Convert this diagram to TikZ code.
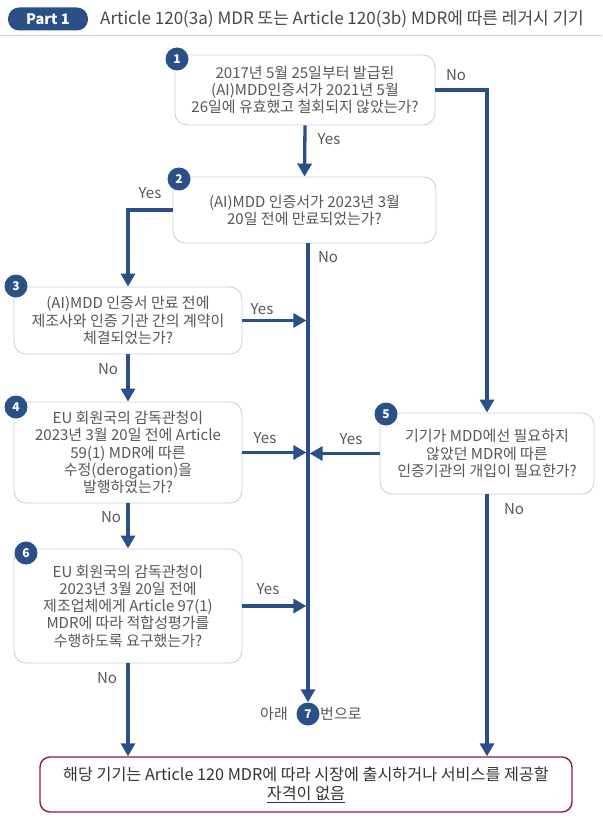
\documentclass[tikz,border=0pt]{standalone}
\usepackage{fontspec}
\setmainfont{Noto Sans CJK KR}
\usetikzlibrary{arrows.meta}
\definecolor{navy}{HTML}{2B5088}
\definecolor{boxline}{HTML}{C9D2DC}
\definecolor{txt}{HTML}{575757}
\definecolor{dark}{HTML}{333333}
\definecolor{wine}{HTML}{8C1D3C}
\tikzset{
  qbox/.style={draw=boxline, line width=0.9pt, rounded corners=12pt, fill=white, align=center, text=txt, font=\fontsize{15}{17.2}\selectfont, inner sep=0pt},
  badge/.style={circle, fill=navy, text=white, font=\fontsize{12}{12}\selectfont\bfseries, minimum size=23pt, inner sep=0pt},
  arr/.style={draw=navy, line width=3.3pt, -{Triangle[width=14pt,length=13pt]}},
  lbl/.style={text=txt, font=\fontsize{15}{15}\selectfont, inner sep=0pt},
}
\begin{document}
\begin{tikzpicture}[x=1pt,y=-1pt]
\useasboundingbox (0,0) rectangle (602,821);
% header
\node[rounded corners=11pt, fill=navy, minimum width=80pt, minimum height=23pt, text=white, font=\fontsize{14.5}{14.5}\selectfont\bfseries, inner sep=0pt] (part) at (48,19) {Part 1};
\node[anchor=west, text=dark!90, font=\fontsize{17}{17}\selectfont, inner sep=0pt] (title) at (100,19) {Article 120(3a) MDR 또는 Article 120(3b) MDR에 따른 레거시 기기};
\draw[boxline, line width=1pt] (0,36) -- (602,36);

% boxes
\node[qbox, minimum width=260pt, minimum height=70pt] (b1) at (305,90) {2017년 5월 25일부터 발급된\\(AI)MDD인증서가 2021년 5월\\26일에 유효했고 철회되지 않았는가?};
\node[qbox, minimum width=263pt, minimum height=66pt] (b2) at (304.5,210) {(AI)MDD 인증서가 2023년 3월\\20일 전에 만료되었는가?};
\node[qbox, minimum width=228pt, minimum height=67pt] (b3) at (128,320.5) {(AI)MDD 인증서 만료 전에\\제조사와 인증 기관 간의 계약이\\체결되었는가?};
\node[qbox, minimum width=228pt, minimum height=101pt] (b4) at (128,452.5) {EU 회원국의 감독관청이\\2023년 3월 20일 전에 Article\\59(1) MDR에 따른\\수정(derogation)을\\발행하였는가?};
\node[qbox, minimum width=214pt, minimum height=81pt] (b5) at (487,453.5) {기기가 MDD에선 필요하지\\않았던 MDR에 따른\\인증기관의 개입이 필요한가?};
\node[qbox, minimum width=228pt, minimum height=114pt] (b6) at (128,606) {EU 회원국의 감독관청이\\2023년 3월 20일 전에\\제조업체에게 Article 97(1)\\MDR에 따라 적합성평가를\\수행하도록 요구했는가?};
\node[draw=wine, line width=1.4pt, rounded corners=10pt, minimum width=532pt, minimum height=55pt, align=center, text=dark, font=\fontsize{16.2}{19}\selectfont, inner sep=0pt] (fin) at (306,784.5) {해당 기기는 Article 120 MDR에 따라 시장에 출시하거나 서비스를 제공할\\\underline{자격이 없음}};

% badges
\node[badge] (n1) at (177,59) {1};
\node[badge] (n2) at (179,179) {2};
\node[badge] (n3) at (16,286) {3};
\node[badge] (n4) at (16,407) {4};
\node[badge] (n5) at (386,414) {5};
\node[badge] (n6) at (26,553) {6};
\node[badge] (n7) at (308,714) {7};
\node[lbl, anchor=east] (a7) at (288,714) {아래};
\node[lbl, anchor=west] (b7) at (320,714) {번으로};

% connectors
\draw[arr] (b1.south) -- (b2.north);
\draw[arr] (b1.east) -| (b5.north);
\draw[arr] (b2.west) -| (b3.north);
\draw[arr] (b2.south -| n7) -- (n7.north);
\draw[arr, shorten >=1.6pt] (b3.east) -- (b3.east -| n7);
\draw[arr, shorten >=1.6pt] (b4.east) -- (b4.east -| n7);
\draw[arr, shorten >=1.6pt] (b5.west) -- (b5.west -| n7);
\draw[arr, shorten >=1.6pt] (b6.east) -- (b6.east -| n7);
\draw[arr] (b3.south) -- (b4.north);
\draw[arr] (b4.south) -- (b6.north);
\draw[arr] (b6.south) -- (b6.south |- fin.north);
\draw[arr] (b5.south) -- (b5.south |- fin.north);

% labels
\node[lbl] (y12) at (329,139) {Yes};
\node[lbl] (n15) at (456,75) {No};
\node[lbl] (y23) at (150,193) {Yes};
\node[lbl] (n27) at (328,257) {No};
\node[lbl] (y3) at (262,309) {Yes};
\node[lbl] (n34) at (108,369) {No};
\node[lbl] (y4) at (265,438) {Yes};
\node[lbl] (y5) at (351,439) {Yes};
\node[lbl] (n5f) at (514,509) {No};
\node[lbl] (n46) at (111,517) {No};
\node[lbl] (y6) at (268,589) {Yes};
\node[lbl] (n6f) at (107,678) {No};
\end{tikzpicture}
\end{document}
